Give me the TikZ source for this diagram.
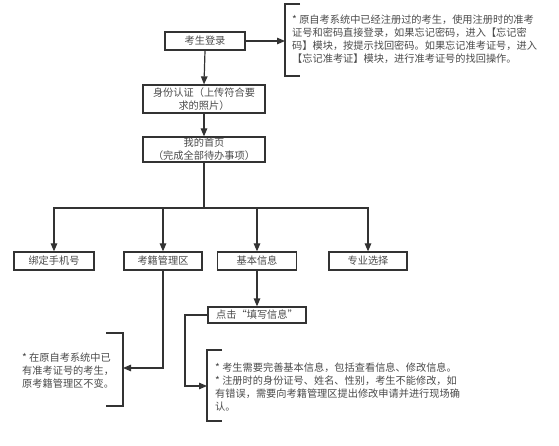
\documentclass[tikz,border=0pt]{standalone}
\usepackage{fontspec}
\setmainfont{Noto Sans CJK SC}
\usetikzlibrary{arrows.meta}
\definecolor{txt}{HTML}{4A4A4A}
\definecolor{ln}{HTML}{333333}
\begin{document}
\begin{tikzpicture}[x=1pt,y=-1pt,
  font=\fontsize{10.2}{13}\selectfont,
  box/.style={draw=ln, line width=1.2pt, text=txt, inner sep=0pt, align=center, minimum height=18pt},
  conn/.style={draw=ln, line width=1.2pt},
  arr/.style={conn, -{Triangle[length=8pt,width=6.5pt]}},
  note/.style={text=txt, align=left, inner sep=0pt, anchor=north west},
  brk/.style={draw=ln, line width=1.2pt}]
\useasboundingbox (0,0) rectangle (559,446);

% boxes
\node[box, minimum width=80pt] (login) at (205,41) {考生登录};
\node[box, minimum width=122pt, minimum height=28pt] (id) at (204,99) {身份认证（上传符合要\\求的照片）};
\node[box, minimum width=122pt, minimum height=25pt] (home) at (204,149.5) {我的首页\\（完成全部待办事项）};
\node[box, minimum width=80pt] (phone) at (54,261) {绑定手机号};
\node[box, minimum width=78pt] (reg) at (163,261) {考籍管理区};
\node[box, minimum width=79pt] (basic) at (257,261) {基本信息};
\node[box, minimum width=78pt] (major) at (368,261) {专业选择};
\node[box, minimum width=98pt, minimum height=16pt] (click) at (257,315) {点击“填写信息”};

% notes
\node[note] (n1) at (292,14.5) {* 原自考系统中已经注册过的考生，使用注册时的准考\\证号和密码直接登录，如果忘记密码，进入【忘记密\\码】模块，按提示找回密码。如果忘记准考证号，进入\\【忘记准考证】模块，进行准考证号的找回操作。};
\node[note] (n2) at (22,352.5) {* 在原自考系统中已\\有准考证号的考生，\\原考籍管理区不变。};
\node[note] (n3) at (215,362.5) {* 考生需要完善基本信息，包括查看信息、修改信息。\\* 注册时的身份证号、姓名、性别，考生不能修改，如\\有错误，需要向考籍管理区提出修改申请并进行现场确\\认。};

% brackets
\draw[brk] (300,4) -- (285,4) -- (285,76) -- (300,76);
\draw[brk] (106,333) -- (123,333) -- (123,406) -- (106,406);
\draw[brk] (222,350) -- (207,350) -- (207,421) -- (222,421);
\coordinate (b1) at (285,41);
\coordinate (b2) at (123,368);
\coordinate (b3) at (207,386);
\coordinate (split) at (204,208);
\coordinate (turn3) at (185,386);

% connectors
\draw[arr] (login.east) -- (b1);
\draw[arr] (login.south) -- (id.north);
\draw[arr] (id.south) -- (home.north);
\draw[conn] (home.south) -- (split);
\draw[arr] (split) -| (phone.north);
\draw[arr] (split) -| (reg.north);
\draw[arr] (split) -| (basic.north);
\draw[arr] (split) -| (major.north);
\draw[arr] (reg.south) |- (b2);
\draw[arr] (basic.south) -- (click.north);
\draw[arr] (click.west) -| (turn3) -- (b3);
\end{tikzpicture}
\end{document}
